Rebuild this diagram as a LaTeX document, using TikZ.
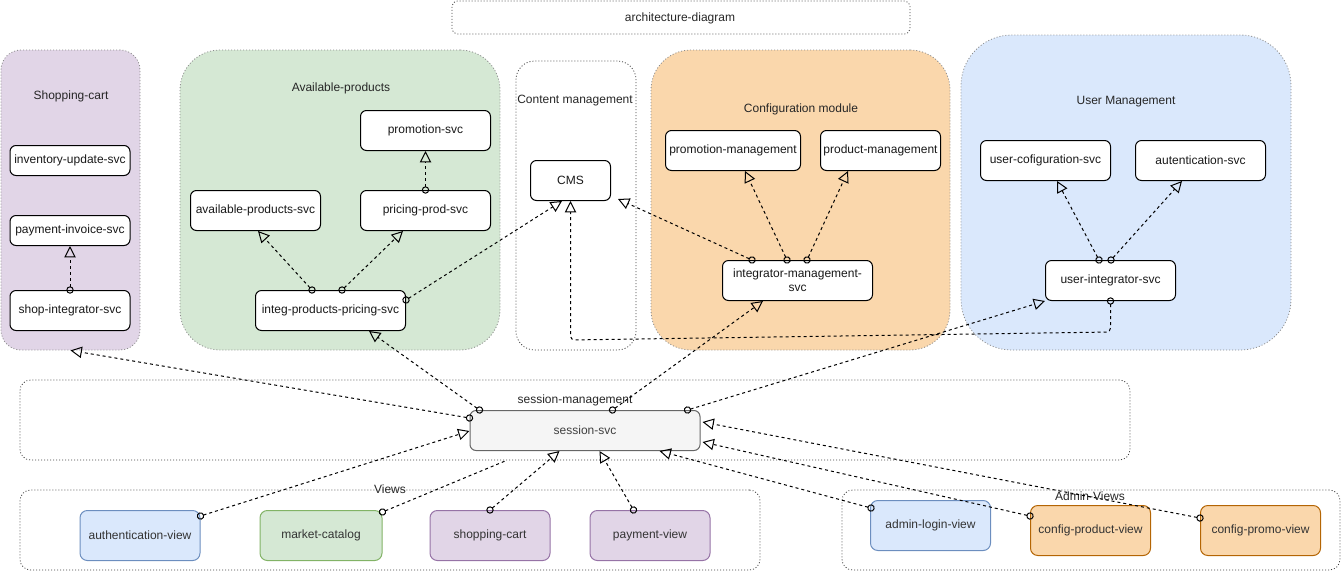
\documentclass[tikz,border=0pt]{standalone}
\usepackage{fontspec}
\setmainfont{Liberation Sans}
\usetikzlibrary{arrows.meta,calc}
\definecolor{purpfill}{HTML}{E1D5E7}
\definecolor{purpline}{HTML}{9673A6}
\definecolor{grnfill}{HTML}{D5E8D4}
\definecolor{grnline}{HTML}{82B366}
\definecolor{orgfill}{HTML}{FAD7AC}
\definecolor{orgline}{HTML}{B46504}
\definecolor{blufill}{HTML}{DAE8FC}
\definecolor{bluline}{HTML}{6C8EBF}
\definecolor{sessfill}{HTML}{F5F5F5}
\definecolor{sessline}{HTML}{666666}
\begin{document}
\begin{tikzpicture}[x=0.75pt,y=-0.75pt,
  font=\fontsize{9}{10.5}\selectfont,
  sz/.style 2 args={minimum width=#1*0.75pt, minimum height=#2*0.75pt},
  svc/.style={draw=black, line width=0.75pt, rounded corners=4.5pt, fill=white, inner sep=0pt, align=center, text=black!90},
  viewbox/.style={svc, rounded corners=5.5pt, text=black!80},
  grp/.style={draw=black!45, line width=0.6pt, dash pattern=on 0.75pt off 1.5pt, inner sep=0pt},
  wgrp/.style={grp, draw=black!75},
  lbl/.style={text=black!85, inner sep=0pt},
  conn/.style={line width=0.75pt, dash pattern=on 2.25pt off 2.25pt,
    {Circle[open,length=5.5pt,width=5.5pt]}-{Triangle[open,length=8.5pt,width=8.5pt]},
    shorten <=-2.75pt},
  conns/.style={line width=0.75pt, dash pattern=on 2.25pt off 2.25pt,
    {Circle[open,length=5.5pt,width=5.5pt]}-, shorten <=-2.75pt},
]
\useasboundingbox (0,0) rectangle (1341,579);

% ---------- groups ----------
\node[wgrp, sz={458}{33}, rounded corners=4pt] (garch) at (681,17.5) {};
\node[grp, fill=purpfill, sz={139}{300}, rounded corners=15pt] (gcart) at (70.5,200) {};
\node[grp, fill=grnfill, sz={320}{300}, rounded corners=30pt] (gavail) at (340,200) {};
\node[wgrp, sz={120}{289}, rounded corners=14pt] (gcms) at (576,205.5) {};
\node[grp, fill=orgfill, sz={299}{300}, rounded corners=30pt] (gcfg) at (800.5,200) {};
\node[grp, fill=blufill, sz={330}{315}, rounded corners=38pt] (guser) at (1126,192.5) {};
\node[wgrp, sz={1110}{80}, rounded corners=8pt] (gsess) at (575,420) {};
\node[wgrp, sz={740}{80}, rounded corners=8pt] (gviews) at (390,530) {};
\node[wgrp, sz={498}{80}, rounded corners=8pt] (gadmin) at (1091,530) {};

% ---------- group labels ----------
\node[lbl] (larch) at (680,18) {architecture-diagram};
\node[lbl] (lcart) at (71,96) {Shopping-cart};
\node[lbl] (lavail) at (341,88) {Available-products};
\node[lbl] (lcms) at (575,101) {Content management};
\node[lbl] (lcfg) at (801,109) {Configuration module};
\node[lbl] (luser) at (1126,102) {User Management};
\node[lbl] (lsess) at (575,400) {session-management};
\node[lbl] (lviews) at (390,489) {Views};
\node[lbl] (ladmin) at (1090,496) {Admin-Views};

% ---------- services ----------
\node[svc, sz={120}{30}] (inv) at (70,160.5) {inventory-update-svc};
\node[svc, sz={120}{30}] (payinv) at (70,230.5) {payment-invoice-svc};
\node[svc, sz={120}{40}] (shopint) at (70,310.5) {shop-integrator-svc};

\node[svc, sz={130}{40}] (promsvc) at (425.5,130.5) {promotion-svc};
\node[svc, sz={130}{40}] (availsvc) at (255.5,210.5) {available-products-svc};
\node[svc, sz={130}{40}] (pricing) at (425.5,210.5) {pricing-prod-svc};
\node[svc, sz={150}{40}] (integ) at (330.5,310.5) {integ-products-pricing-svc};

\node[svc, sz={80}{40}] (cms) at (570.5,180.5) {CMS};

\node[svc, sz={135}{40}] (prommgmt) at (733,150.5) {promotion-management};
\node[svc, sz={120}{40}] (prodmgmt) at (880.5,150.5) {product-management};
\node[svc, sz={150}{40}] (intmgmt) at (797.5,280.5) {integrator-management-\\svc};

\node[svc, sz={130}{40}] (usercfg) at (1045.5,160.5) {user-cofiguration-svc};
\node[svc, sz={130}{40}] (auth) at (1200.5,160.5) {autentication-svc};
\node[svc, sz={130}{40}] (userint) at (1110.5,280.5) {user-integrator-svc};

\node[svc, draw=sessline, fill=sessfill, text=black!75, sz={230}{40}] (session) at (585,430.5) {session-svc};

% ---------- views ----------
\node[viewbox, draw=bluline, fill=blufill, sz={120}{50}] (authview) at (140,535.5) {authentication-view};
\node[viewbox, draw=grnline, fill=grnfill, sz={122}{50}] (market) at (321,535.5) {market-catalog};
\node[viewbox, draw=purpline, fill=purpfill, sz={120}{50}] (shopview) at (490,535.5) {shopping-cart};
\node[viewbox, draw=purpline, fill=purpfill, sz={120}{50}] (payview) at (650,535.5) {payment-view};
\node[viewbox, draw=bluline, fill=blufill, sz={120}{50}] (adminlogin) at (930.5,525.5) {admin-login-view};
\node[viewbox, draw=orgline, fill=orgfill, sz={120}{50}] (cfgprod) at (1090.5,530.5) {config-product-view};
\node[viewbox, draw=orgline, fill=orgfill, sz={120}{50}] (cfgpromo) at (1260.5,530.5) {config-promo-view};

\coordinate (mkend) at ($(gsess.south west)+(487,0)$);

% ---------- connectors ----------
\draw[conn] (shopint.north) -- (payinv.south);
\draw[conn] (pricing.north) -- (promsvc.south);
\draw[conn] ($(integ.north west)+(57,0)$) -- ($(availsvc.south west)+(68,0)$);
\draw[conn] ($(integ.north west)+(87,0)$) -- ($(pricing.south west)+(43,0)$);
\draw[conn] ($(integ.north east)+(0,10)$) -- ($(cms.south west)+(32,0)$);
\draw[conn] ($(intmgmt.north west)+(30,0)$) -- ($(cms.south east)+(7,-2)$);
\draw[conn] ($(intmgmt.north west)+(65,0)$) -- ($(prommgmt.south west)+(80,0)$);
\draw[conn] ($(intmgmt.north west)+(85,0)$) -- ($(prodmgmt.south west)+(28,0)$);
\draw[conn] ($(userint.north west)+(54,0)$) -- ($(usercfg.south west)+(77,0)$);
\draw[conn] ($(userint.north west)+(66,0)$) -- ($(auth.south west)+(47,0)$);
\draw[conn, rounded corners=3pt] (userint.south) -- ($(userint.south)+(0,31)$) -- ($(cms.south)+(0,139)$) -- (cms.south);

\draw[conn] ($(session.north west)+(0,8)$) -- (gcart.south);
\draw[conn] ($(session.north west)+(10,0)$) -- ($(integ.south west)+(114,0)$);
\draw[conn] ($(session.north west)+(143,0)$) -- ($(intmgmt.south west)+(41,0)$);
\draw[conn] ($(session.north west)+(218,0)$) -- (userint.south west);

\draw[conn] ($(authview.north east)+(0,6)$) -- ($(session.north west)+(0,21)$);
\draw[conns] ($(market.north east)+(0,2)$) -- (mkend);
\draw[conn] (shopview.north) -- ($(session.south west)+(90,0)$);
\draw[conn] ($(payview.north west)+(44,0)$) -- ($(session.south west)+(130,0)$);
\draw[conn] ($(adminlogin.north west)+(1,8)$) -- ($(session.south west)+(190,0)$);
\draw[conn] ($(cfgprod.north west)+(0,11)$) -- ($(session.north east)+(2,32)$);
\draw[conn] ($(cfgpromo.north west)+(0,13)$) -- ($(session.north east)+(2,12)$);
\end{tikzpicture}
\end{document}
